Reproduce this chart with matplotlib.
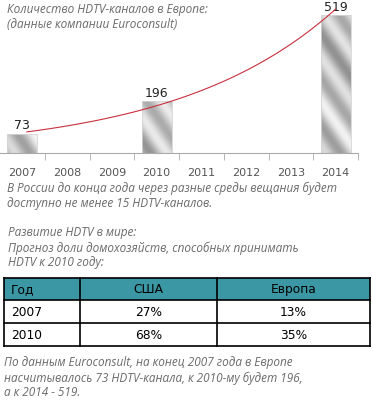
import numpy as np
import matplotlib
matplotlib.use("Agg")
import matplotlib.pyplot as plt
from matplotlib.patches import Rectangle

# data
years = ["2007", "2008", "2009", "2010", "2011", "2012", "2013", "2014"]
channels = [73, 0, 0, 196, 0, 0, 0, 519]
tbl_head = ["Год", "США", "Европа"]
tbl_years = ["2007", "2010"]
tbl_usa = ["27%", "68%"]
tbl_europe = ["13%", "35%"]

W, H = 373, 414
fig = plt.figure(figsize=(W / 100, H / 100), dpi=100)

def px(x0, y0, x1, y1):
    # pixel box (top-left origin) -> figure fraction
    return [x0 / W, 1 - y1 / H, (x1 - x0) / W, (y1 - y0) / H]

# ---- bar chart
ax = fig.add_axes(px(0, 5, 358, 154))
ymax = 149 * 519 / 138
ax.set_xlim(-0.5, len(years) - 0.5)
ax.set_ylim(0, ymax)
ppu = 149 / ymax  # pixels per unit

for i, v in enumerate(channels):
    if v <= 0:
        continue
    r = Rectangle((i - 0.335, 0), 0.67, v, facecolor="none", edgecolor="#d4d4d4", lw=0.6, zorder=2)
    ax.add_patch(r)
    hp = int(v * ppu)
    yy, xx = np.mgrid[0:hp, 0:30]
    # silver texture, broad diagonal bands
    d = xx + (hp - yy) * 0.7
    tex = 0.76 + 0.14 * np.sin(d / 5.0 + i) - 0.05 * np.cos(d / 13.0)
    im = ax.imshow(tex, cmap="gray", vmin=0, vmax=1, aspect="auto",
                   extent=(i - 0.335, i + 0.335, 0, v), zorder=1)
    im.set_clip_path(r)
    ax.text(i, v + 8, str(v), ha="center", va="bottom", fontsize=9, color="#222")

# exponential trend line
idx = np.array([i for i, v in enumerate(channels) if v > 0])
vals = np.array([v for v in channels if v > 0])
k, b = np.polyfit(idx, np.log(vals), 1)
tx = np.linspace(0.1, 7, 100)
ax.plot(tx, np.exp(b + k * tx), color="#c8303c", lw=0.8, zorder=3)

ax.set_xticks(range(len(years)))
ax.set_xticklabels(years, fontsize=8, color="#555")
ax.tick_params(axis="x", which="major", length=0, pad=10)
ax.set_xticks(np.arange(0.5, len(years), 1), minor=True)
ax.tick_params(axis="x", which="minor", length=5, color="#aaa", direction="out")
ax.set_yticks([])
for s in ["top", "right", "left"]:
    ax.spines[s].set_visible(False)
ax.spines["bottom"].set_color("#aaa")
ax.set_xlim(-0.5, len(years) - 0.5)
ax.set_ylim(0, ymax)

# ---- overlay for text and table
ov = fig.add_axes([0, 0, 1, 1])
ov.set_xlim(0, W)
ov.set_ylim(H, 0)
ov.axis("off")

tfont = dict(family="Open Sans", style="italic", fontsize=8.5, color="#6a6a6a", va="center")
ov.text(7, 9, "Количество HDTV-каналов в Европе:", **tfont)
ov.text(7, 24, "(данные компании Euroconsult)", **tfont)
ov.text(7, 188, "В России до конца года через разные среды вещания будет", **tfont)
ov.text(7, 204, "доступно не менее 15 HDTV-каналов.", **tfont)
ov.text(8, 233, "Развитие HDTV в мире:", **tfont)
ov.text(8, 248, "Прогноз доли домохозяйств, способных принимать", **tfont)
ov.text(8, 263, "HDTV к 2010 году:", **tfont)
ov.text(4, 363, "По данным Euroconsult, на конец 2007 года в Европе", **tfont)
ov.text(4, 378, "насчитывалось 73 HDTV-канала, к 2010-му будет 196,", **tfont)
ov.text(4, 393, "а к 2014 - 519.", **tfont)

# table
cols = [4, 80, 217, 370]
rows = [279, 301, 324, 347]
ov.add_patch(Rectangle((cols[0], rows[0]), cols[-1] - cols[0], rows[1] - rows[0],
                       facecolor="#3a97a3", edgecolor="none"))
for y in rows:
    ov.plot([cols[0], cols[-1]], [y, y], color="black", lw=1.2)
for x in cols:
    ov.plot([x, x], [rows[0], rows[-1]], color="black", lw=1.2)

cells = [tbl_head] + [[a, b_, c] for a, b_, c in zip(tbl_years, tbl_usa, tbl_europe)]
cfont = dict(family="DejaVu Sans", fontsize=8.8, color="black", va="center")
for r, row in enumerate(cells):
    yc = (rows[r] + rows[r + 1]) / 2
    ov.text(11, yc, row[0], ha="left", **cfont)
    ov.text((cols[1] + cols[2]) / 2, yc, row[1], ha="center", **cfont)
    ov.text((cols[2] + cols[3]) / 2, yc, row[2], ha="center", **cfont)

fig.savefig("out.png", dpi=100)
